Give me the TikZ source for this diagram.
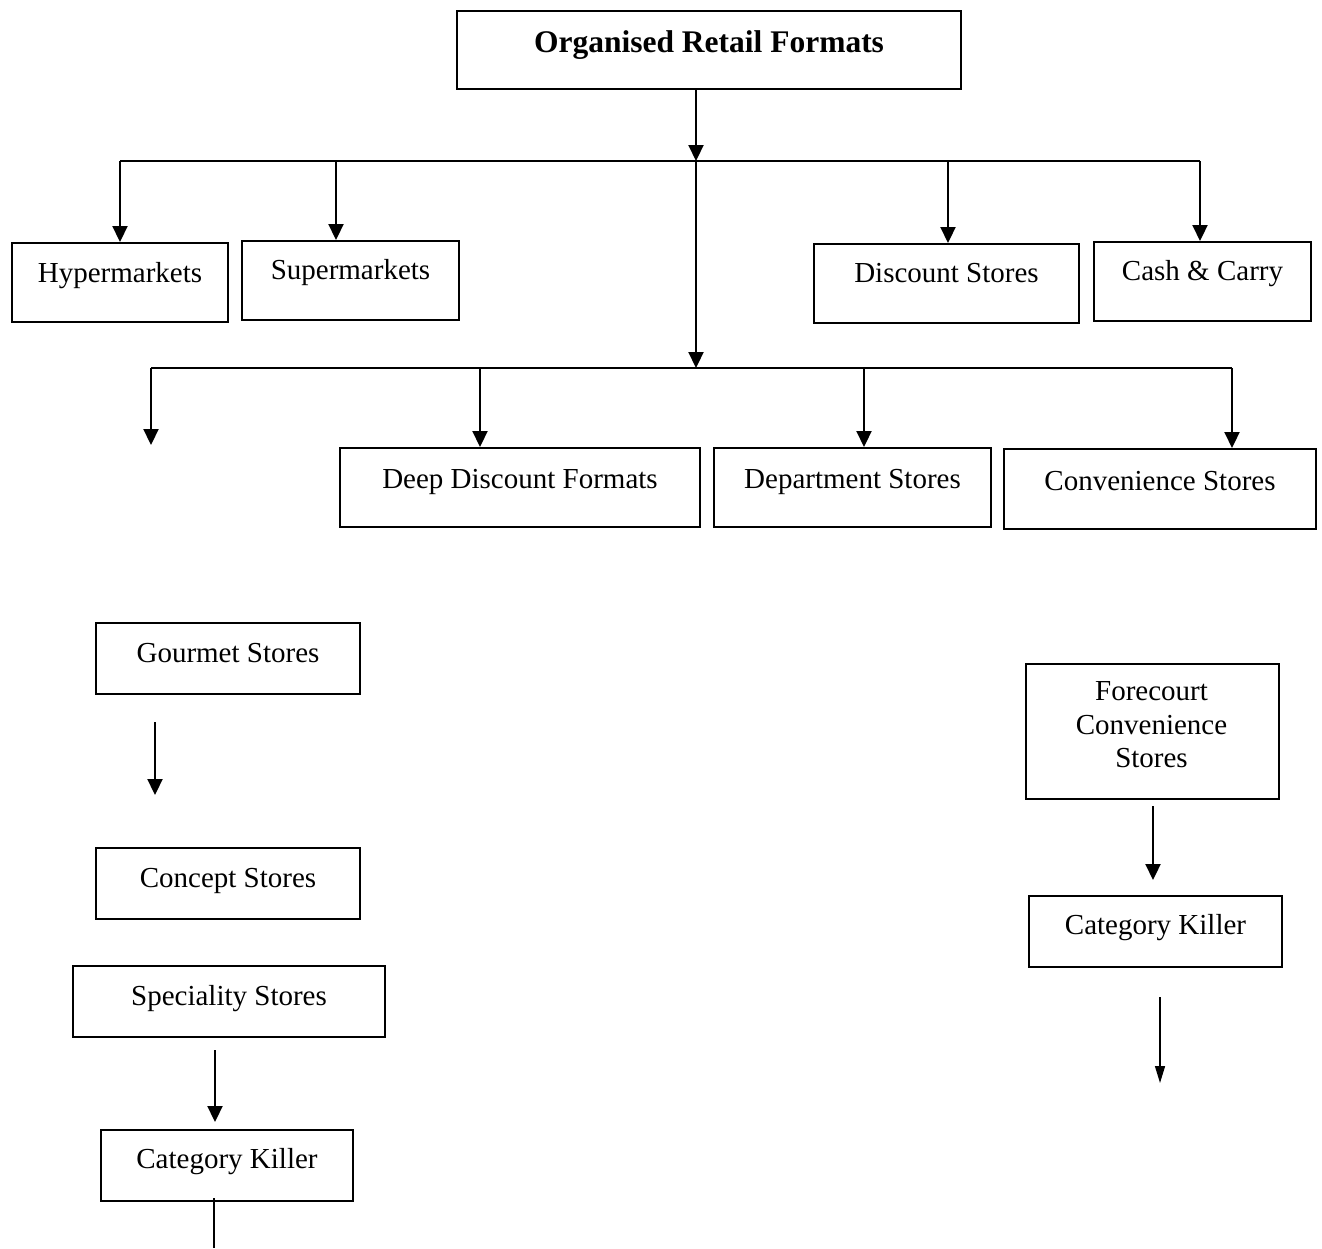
\documentclass[tikz,border=0pt]{standalone}
\usepackage{fontspec}
\setmainfont{Liberation Serif}
\usetikzlibrary{arrows.meta}
\begin{document}
\begin{tikzpicture}[x=1pt,y=-1pt,
  every node/.style={font=\fontsize{29}{33.5}\selectfont},
  fbox/.style={draw, line width=2pt, inner xsep=0pt, inner ysep=0pt, anchor=north west},
  link/.style={line width=2.2pt},
  arr/.style={line width=2.2pt, -{Triangle[length=16pt,width=15pt]}},
  thinarr/.style={line width=1.4pt, -{Triangle[length=17pt,width=10pt]}}]

\useasboundingbox (0,0) rectangle (1322,1248);

% boxes
\node[fbox, minimum width=504pt, text height=41pt, text depth=37pt,
      font=\fontsize{31.5}{36}\selectfont\bfseries] (root) at (456,10) {Organised Retail Formats};
\node[fbox, minimum width=216pt, text height=39pt, text depth=40pt] (hyper) at (11,242) {Hypermarkets};
\node[fbox, minimum width=217pt, text height=38pt, text depth=41pt] (super) at (241,240) {Supermarkets};
\node[fbox, minimum width=265pt, text height=38pt, text depth=41pt] (disc) at (813,243) {Discount Stores};
\node[fbox, minimum width=217pt, text height=38pt, text depth=41pt] (cash) at (1093,241) {Cash \& Carry};
\node[fbox, minimum width=360pt, text height=40pt, text depth=39pt] (deep) at (339,447) {Deep Discount Formats};
\node[fbox, minimum width=277pt, text height=40pt, text depth=39pt] (dept) at (713,447) {Department Stores};
\node[fbox, minimum width=312pt, text height=41pt, text depth=39pt] (conv) at (1003,448) {Convenience Stores};
\node[fbox, minimum width=264pt, text height=39pt, text depth=32pt] (gour) at (95,622) {Gourmet Stores};
\node[fbox, minimum width=264pt, text height=39pt, text depth=32pt] (conc) at (95,847) {Concept Stores};
\node[fbox, minimum width=312pt, text height=39pt, text depth=32pt] (spec) at (72,965) {Speciality Stores};
\node[fbox, minimum width=252pt, text height=38pt, text depth=33pt] (ckl) at (100,1129) {Category Killer};
\node[fbox, minimum width=253pt, minimum height=135pt] (fore) at (1025,663) {};
\node[align=center, inner sep=0pt] (foretext) at (1151.5,725) {Forecourt\\Convenience\\Stores};
\node[fbox, minimum width=253pt, text height=38pt, text depth=33pt] (ckr) at (1028,895) {Category Killer};

% bus coordinates
\coordinate (b1) at (696,161);
\coordinate (b1l) at (120,161);
\coordinate (b1s) at (336,161);
\coordinate (b1d) at (948,161);
\coordinate (b1r) at (1200,161);
\coordinate (b2) at (696,368);
\coordinate (b2l) at (151,368);
\coordinate (b2a) at (480,368);
\coordinate (b2b) at (864,368);
\coordinate (b2r) at (1232,368);
\coordinate (b2end) at (151,445);

% first level
\draw[arr] (root.south -| b1) -- (b1);
\draw[link] (b1l) -- (b1r);
\draw[arr] (b1l) -- (hyper.north -| b1l);
\draw[arr] (b1s) -- (super.north -| b1s);
\draw[arr] (b1d) -- (disc.north -| b1d);
\draw[arr] (b1r) -- (cash.north -| b1r);

% second level
\draw[arr] (b1) -- (b2);
\draw[link] (b2l) -- (b2r);
\draw[arr] (b2l) -- (b2end);
\draw[arr] (b2a) -- (deep.north -| b2a);
\draw[arr] (b2b) -- (dept.north -| b2b);
\draw[arr] (b2r) -- (conv.north -| b2r);

% free arrows
\coordinate (g1) at (155,722);
\coordinate (g2) at (155,795);
\draw[arr] (g1) -- (g2);
\coordinate (f1) at (1153,806);
\coordinate (f2) at (1153,880);
\draw[arr] (f1) -- (f2);
\coordinate (k1) at (1160,997);
\coordinate (k2) at (1160,1083);
\draw[thinarr] (k1) -- (k2);
\coordinate (s1) at (215,1050);
\coordinate (s2) at (215,1122);
\draw[arr] (s1) -- (s2);
\coordinate (c1) at (214,1198);
\coordinate (c2) at (214,1248);
\draw[link] (c1) -- (c2);
\end{tikzpicture}
\end{document}
